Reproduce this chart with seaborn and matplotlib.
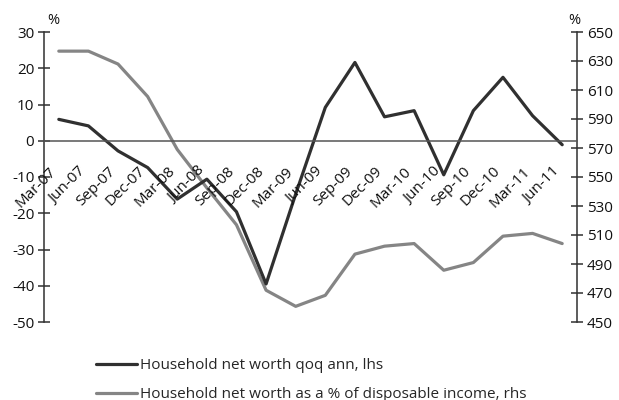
import matplotlib
matplotlib.use("Agg")
import matplotlib.pyplot as plt
import matplotlib.transforms as mtransforms
import seaborn as sns
import pandas as pd
import numpy as np
from matplotlib.lines import Line2D

quarters = ["Mar-07", "Jun-07", "Sep-07", "Dec-07", "Mar-08", "Jun-08", "Sep-08", "Dec-08",
            "Mar-09", "Jun-09", "Sep-09", "Dec-09", "Mar-10", "Jun-10", "Sep-10", "Dec-10",
            "Mar-11", "Jun-11"]
net_worth_qoq = [5.9, 4.1, -2.8, -7.4, -16.1, -10.6, -19.6, -39.5,
                 -14.7, 9.2, 21.6, 6.6, 8.3, -9.4, 8.3, 17.5, 6.9, -1.1]
net_worth_pct_income = [636.8, 636.8, 627.9, 605.5, 569.0, 542.5, 517.0, 471.9,
                        460.8, 468.4, 496.8, 502.3, 504.1, 485.7, 491.0, 509.2, 511.1, 504.1]
label_lhs = "Household net worth qoq ann, lhs"
label_rhs = "Household net worth as a % of disposable income, rhs"

sns.set_style("white")
plt.rcParams["font.family"] = ["Open Sans", "DejaVu Sans"]
plt.rcParams["font.size"] = 11
plt.rcParams["axes.unicode_minus"] = False

df = pd.DataFrame({"q": np.arange(len(quarters)), "lhs": net_worth_qoq, "rhs": net_worth_pct_income})

W, H = 619, 400
fig = plt.figure(figsize=(W / 100, H / 100), dpi=100)
ax = fig.add_axes([44 / W, 78 / H, 533 / W, 290 / H])
ax2 = ax.twinx()

dark = "#303030"
grey = "#858585"
txt = "#111111"
sns.lineplot(data=df, x="q", y="lhs", ax=ax, color=dark, linewidth=2.3, legend=False)
sns.lineplot(data=df, x="q", y="rhs", ax=ax2, color=grey, linewidth=2.3, legend=False)
ax2.set_zorder(ax.get_zorder() - 1)
ax.patch.set_visible(False)

ax.set_xlim(-0.5, len(quarters) - 0.5)
ax.set_ylim(-50, 30)
ax2.set_ylim(450, 650)
ax.set_yticks(np.arange(-50, 31, 10))
ax2.set_yticks(np.arange(450, 651, 20))
ax.set_xlabel("")
ax.set_ylabel("")
ax2.set_ylabel("")

for a in (ax, ax2):
    a.spines["top"].set_visible(False)
    for s in a.spines.values():
        s.set_color(dark)
        s.set_linewidth(1.1)
ax2.spines["bottom"].set_visible(False)
ax2.spines["left"].set_visible(False)
ax.spines["right"].set_visible(False)
ax.spines["bottom"].set_position(("data", 0))
ax.spines["bottom"].set_color("#555555")

for a in (ax, ax2):
    a.tick_params(axis="y", direction="inout", length=8, width=1.1, color=dark, labelsize=11,
                  labelcolor=txt, pad=3)

# category ticks at boundaries on the zero line; labels drawn as rotated text
ax.set_xticks([])
ax.set_xticks(np.arange(len(quarters)) + 0.5, minor=True)
ax.tick_params(axis="x", which="minor", direction="in", length=5, width=1.0, color=dark,
               labelbottom=False)
offset = mtransforms.ScaledTranslation(-10 / 100, -23 / 100, fig.dpi_scale_trans)
for i, q in enumerate(quarters):
    ax.text(i, 0, q, transform=ax.transData + offset, rotation=45, ha="right", va="top",
            rotation_mode="anchor", fontsize=11, color=txt)

fig.text(47 / W, 1 - 21 / H, "%", fontsize=10.5, ha="left", va="center", color=txt)
fig.text(580 / W, 1 - 21 / H, "%", fontsize=10.5, ha="right", va="center", color=txt)

handles = [Line2D([], [], color=dark, linewidth=2.3), Line2D([], [], color=grey, linewidth=2.3)]
fig.legend(handles, [label_lhs, label_rhs], loc="upper left", bbox_to_anchor=(96 / W, 1 - 358 / H),
           frameon=False, fontsize=11, handlelength=2.7, handletextpad=0.2, labelspacing=0.92,
           borderaxespad=0, borderpad=0)

fig.savefig("out.png", dpi=100)
